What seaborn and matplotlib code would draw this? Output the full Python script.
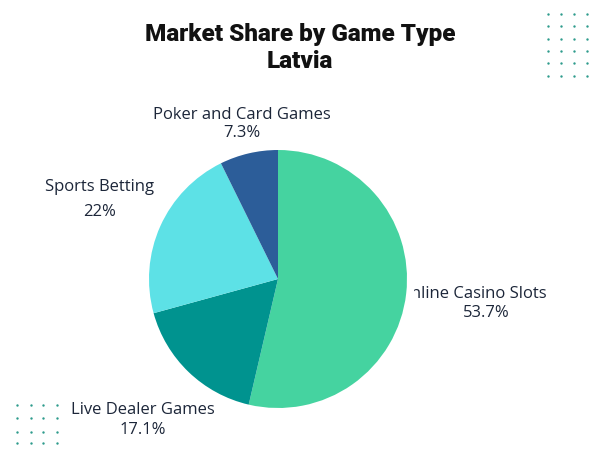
import numpy as np
import matplotlib
matplotlib.use("Agg")
import matplotlib.pyplot as plt
import seaborn as sns
from matplotlib.transforms import Bbox, TransformedBbox

sns.set_theme(style="white")
plt.rcParams['font.family'] = ['Open Sans', 'DejaVu Sans']

# data
games = ["Online Casino Slots", "Live Dealer Games", "Sports Betting", "Poker and Card Games"]
shares = [53.7, 17.1, 22.0, 7.3]
share_labels = ["53.7%", "17.1%", "22%", "7.3%"]
colors = ["#45D3A0", "#00938F", "#5DE1E6", "#2C5D99"]

# label placement in pixels (x centre of name, x centre of value, y of name line, y of value line)
label_pos = [(472, 486, 294, 313), (143, 143, 410, 430), (100, 100, 187, 212), (242, 242, 115, 133)]

W, H = 600, 450
fig = plt.figure(figsize=(6, 4.5), dpi=100)
fig.patch.set_facecolor("white")

# background decoration dots
bg = fig.add_axes([0, 0, 1, 1])
bg.set_xlim(0, W)
bg.set_ylim(H, 0)
bg.axis("off")
tx, ty = np.meshgrid([548, 561, 574, 587], [14, 26, 39, 51, 63, 76])
bx, by = np.meshgrid([17, 31, 43, 57], [405, 418, 432, 443])
bg.scatter(np.r_[tx.ravel(), bx.ravel()], np.r_[ty.ravel(), by.ravel()],
           s=3, color="#2E9C8C", linewidths=0)

# pie
cx, cy, r = 278, 279, 129
ax = fig.add_axes([(cx - r) / W, (H - cy - r) / H, 2 * r / W, 2 * r / H])
wedges, _ = ax.pie(shares, colors=colors, startangle=90, counterclock=False,
                   wedgeprops=dict(linewidth=0))
for w in wedges:
    w.set_zorder(2)
ax.set_xlim(-1, 1)
ax.set_ylim(-1, 1)
ax.set_aspect("equal")

txt_color = "#1C2639"
for i, (name, lab, (x1, x2, y1, y2)) in enumerate(zip(games, share_labels, label_pos)):
    t = ax.text(x1 / W, 1 - y1 / H, name, transform=fig.transFigure, ha="center", va="center",
                fontsize=12, color=txt_color, zorder=0, clip_on=False)
    if i == 0:
        # the first letter of this label is cut off in the original
        t.set_clip_on(True)
        t.set_clip_box(TransformedBbox(Bbox.from_extents(414 / W, 0, 1, 1), fig.transFigure))
    ax.text(x2 / W, 1 - y2 / H, lab, transform=fig.transFigure, ha="center", va="center",
            fontsize=12, color=txt_color, zorder=0, clip_on=False)

title_font = dict(fontsize=17.5, fontweight="black", color="#111111",
                  family=["Roboto", "DejaVu Sans"])
fig.text(0.5, 1 - 34 / H, "Market Share by Game Type", ha="center", va="center", **title_font)
fig.text(0.5, 1 - 61 / H, "Latvia", ha="center", va="center", **title_font)

fig.savefig("out.png", dpi=100, facecolor="white")
